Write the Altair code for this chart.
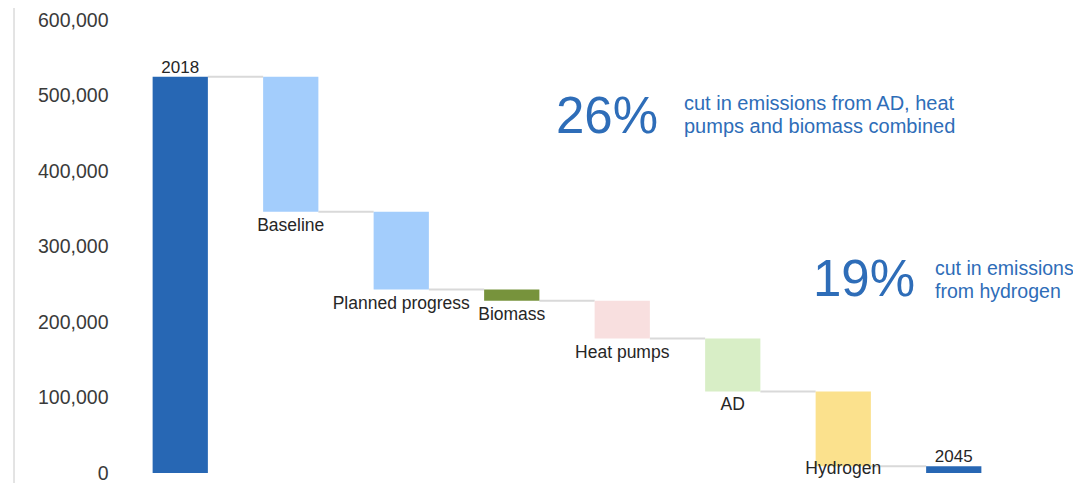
import altair as alt
import pandas as pd

categories = ["2018", "Baseline", "Planned progress", "Biomass", "Heat pumps", "AD", "Hydrogen", "2045"]
changes = [525000, -179000, -103000, -15000, -50000, -70000, -99000, 0]
kinds = ["total", "step", "step", "step", "step", "step", "step", "total"]
colors = ["#2767b4", "#a3cdfc", "#a3cdfc", "#77933c", "#f8dfdf", "#d8eec6", "#fbe18d", "#2767b4"]
y_ticks = [0, 100000, 200000, 300000, 400000, 500000, 600000]

FONT = "Liberation Sans"
BLUE_TXT = "#2e6db8"

rows = []
running = 0
for cat, ch, kind, col in zip(categories, changes, kinds, colors):
    if kind == "total":
        if ch:
            running = ch
        start, end = 0, running
    else:
        start = running
        end = running + ch
        running = end
    rows.append({"cat": cat, "start": start, "end": end, "kind": kind, "color": col,
                 "label_y": end if kind == "total" else max(end, 24000)})
df = pd.DataFrame(rows)

conn = pd.DataFrame({
    "from": categories[:-1],
    "to": categories[1:],
    "level": [r["end"] for r in rows[:-1]],
})

xscale = alt.Scale(domain=categories, paddingInner=0.5, paddingOuter=0.25)
yscale = alt.Scale(domain=[0, 600000], nice=False, zero=True)

base = alt.Chart(df)

bars = base.mark_bar().encode(
    x=alt.X("cat:N", scale=xscale, sort=categories, axis=None),
    y=alt.Y("start:Q", scale=yscale,
            axis=alt.Axis(values=y_ticks, format=",d", ticks=False, domain=False, grid=False,
                          labelPadding=17, labelFontSize=19.5, labelFont=FONT, labelColor="#3a3a3a",
                          title=None)),
    y2="end:Q",
    color=alt.Color("color:N", scale=None),
)

HALF_BAND = 27.6
connectors = alt.Chart(conn).mark_rule(
    color="#d9d9d9", strokeWidth=2, xOffset=HALF_BAND, x2Offset=-HALF_BAND
).encode(
    x=alt.X("from:N", scale=xscale, sort=categories, axis=None),
    x2="to:N",
    y=alt.Y("level:Q", scale=yscale),
)

total_labels = base.transform_filter(alt.datum.kind == "total").mark_text(
    baseline="bottom", dy=0, fontSize=17, font=FONT, color="#262626"
).encode(
    x=alt.X("cat:N", scale=xscale, sort=categories, axis=None),
    y=alt.Y("label_y:Q", scale=yscale),
    text="cat:N",
)

step_labels = base.transform_filter(alt.datum.kind == "step").mark_text(
    baseline="top", dy=5, fontSize=17.5, font=FONT, color="#262626"
).encode(
    x=alt.X("cat:N", scale=xscale, sort=categories, axis=None),
    y=alt.Y("label_y:Q", scale=yscale),
    text="cat:N",
)

one = pd.DataFrame({"k": [0]})

left_line = alt.Chart(one).mark_rule(color="#c8c8c8", strokeWidth=1).encode(
    x=alt.value(-111), y=alt.value(-20), y2=alt.value(475)
)

def big(txt, x, y):
    return alt.Chart(one).mark_text(
        text=txt, align="left", baseline="alphabetic", fontSize=51, font=FONT, color=BLUE_TXT
    ).encode(x=alt.value(x), y=alt.value(y))

def small(lines, x, y, size=20):
    return alt.Chart(one).mark_text(
        text=lines, align="left", baseline="alphabetic", fontSize=size, lineHeight=23,
        font=FONT, color=BLUE_TXT
    ).encode(x=alt.value(x), y=alt.value(y))

chart = alt.layer(
    left_line, connectors, bars, total_labels, step_labels,
    big("26%", 431, 113),
    small(["cut in emissions from AD, heat", "pumps and biomass combined"], 559, 90),
    big("19%", 688, 276),
    small(["cut in emissions", "from hydrogen"], 810, 255, 19.5),
).properties(
    width=884, height=453,
    autosize=alt.AutoSizeParams(type="none"),
    padding={"left": 117, "top": 12, "right": 64, "bottom": 10},
).configure_view(stroke=None)

chart.save("out.html", embed_options={"renderer": "svg", "actions": False})
